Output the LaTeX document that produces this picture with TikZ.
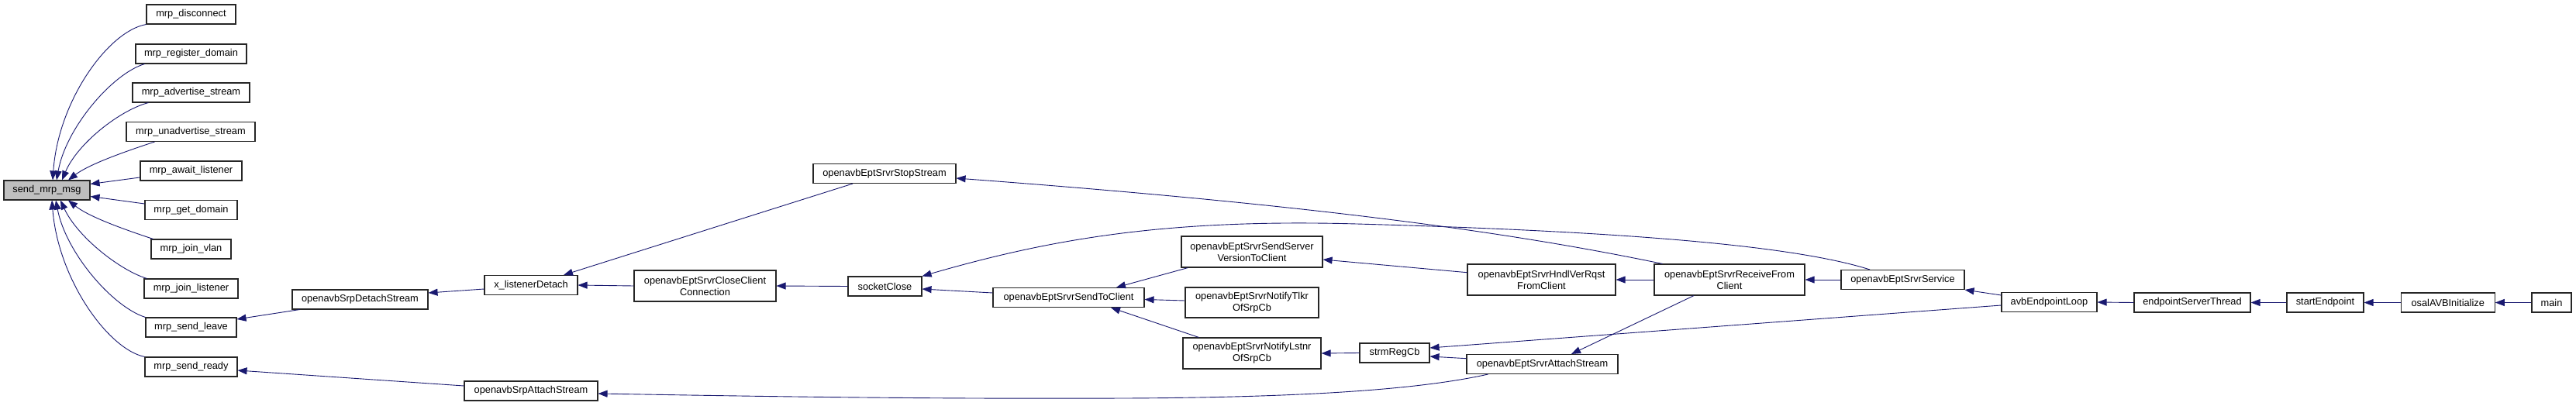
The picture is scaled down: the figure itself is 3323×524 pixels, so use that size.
\documentclass[tikz,border=0pt]{standalone}
\usepackage{fontspec}
\setmainfont{Liberation Sans}
\usetikzlibrary{arrows.meta,calc}
\definecolor{edgecol}{HTML}{191970}
\definecolor{boxfill}{HTML}{BFBFBF}
\begin{document}
\begin{tikzpicture}[x=1pt,y=-1pt,
  font=\fontsize{12.8}{15}\selectfont,
  fn/.style={draw=black!85, line width=1.1pt, fill=white, rectangle, inner sep=0pt, minimum height=25pt, align=center},
  tall/.style={minimum height=40pt},
  gr/.style={fill=boxfill},
  edge/.style={draw=edgecol, line width=0.9pt, -{Triangle[length=12pt,width=9pt]}}]
\fill[white] (0,0) rectangle (3323,524);
\useasboundingbox (0,0) rectangle (3323,524);
% left column
\node[fn,gr,minimum width=111pt] (send) at (60.5,245.5) {send\_mrp\_msg};
\node[fn,minimum width=115pt] (disc) at (246.5,18.5) {mrp\_disconnect};
\node[fn,minimum width=143pt] (regd) at (246.5,69.5) {mrp\_register\_domain};
\node[fn,minimum width=151pt] (advs) at (246.5,119.5) {mrp\_advertise\_stream};
\node[fn,minimum width=166pt] (unadv) at (246,170) {mrp\_unadvertise\_stream};
\node[fn,minimum width=131pt] (await) at (246.5,220.5) {mrp\_await\_listener};
\node[fn,minimum width=119pt] (getd) at (246.5,271) {mrp\_get\_domain};
\node[fn,minimum width=103pt] (vlan) at (246.5,321.5) {mrp\_join\_vlan};
\node[fn,minimum width=121pt] (joinl) at (246.5,372.5) {mrp\_join\_listener};
\node[fn,minimum width=117pt] (leave) at (246.5,422.5) {mrp\_send\_leave};
\node[fn,minimum width=119pt] (ready) at (246.5,473.5) {mrp\_send\_ready};
% middle
\node[fn,minimum width=175pt] (srpdet) at (464.5,386.5) {openavbSrpDetachStream};
\node[fn,minimum width=172pt] (srpatt) at (685,504.5) {openavbSrpAttachStream};
\node[fn,minimum width=120pt] (xld) at (685,368) {x\_listenerDetach};
\node[fn,minimum width=184pt] (stop) at (1141,224) {openavbEptSrvrStopStream};
\node[fn,tall,minimum width=183pt] (close) at (909.5,369) {openavbEptSrvrCloseClient\\Connection};
\node[fn,minimum width=95pt] (sock) at (1141.5,369.5) {socketClose};
\node[fn,minimum width=195pt] (send2c) at (1378.5,384) {openavbEptSrvrSendToClient};
\node[fn,tall,minimum width=182pt] (ssv) at (1615,325) {openavbEptSrvrSendServer\\VersionToClient};
\node[fn,tall,minimum width=172pt,minimum height=39pt] (tlkr) at (1615,390.5) {openavbEptSrvrNotifyTlkr\\OfSrpCb};
\node[fn,tall,minimum width=178pt] (lstnr) at (1615,456) {openavbEptSrvrNotifyLstnr\\OfSrpCb};
\node[fn,minimum width=90pt] (strm) at (1799,455.5) {strmRegCb};
\node[fn,minimum width=195pt] (eatt) at (1989.5,470) {openavbEptSrvrAttachStream};
\node[fn,tall,minimum width=191pt] (hndl) at (1988.5,361) {openavbEptSrvrHndlVerRqst\\FromClient};
\node[fn,tall,minimum width=194pt] (recv) at (2231,361) {openavbEptSrvrReceiveFrom\\Client};
\node[fn,minimum width=159pt] (serv) at (2454.5,361) {openavbEptSrvrService};
\node[fn,minimum width=123pt] (loop) at (2643.5,390) {avbEndpointLoop};
\node[fn,minimum width=150pt] (est) at (2828,390.5) {endpointServerThread};
\node[fn,minimum width=99pt] (start) at (2999.5,390.5) {startEndpoint};
\node[fn,minimum width=121pt] (osal) at (3157.7,390.5) {osalAVBInitialize};
\node[fn,minimum width=51pt] (main) at (3291.5,390.5) {main};
% edges into send_mrp_msg
\draw[edge] (disc.south west) .. controls (140,40) and (75,130) .. ($(send.north)+(7.5,0)$);
\draw[edge] ($(regd.south west)+(12,0)$) .. controls (145,95) and (85,165) .. ($(send.north)+(12.5,0)$);
\draw[edge] ($(advs.south west)+(21,0)$) .. controls (155,142) and (100,185) .. ($(send.north)+(19.5,0)$);
\draw[edge] ($(unadv.south west)+(37,0)$) .. controls (160,196) and (115,212) .. ($(send.north)+(27.5,0)$);
\draw[edge] ($(await.west)+(0,8.5)$) -- ($(send.east)+(0,-8)$);
\draw[edge] ($(getd.west)+(0,-8)$) -- ($(send.east)+(0,8)$);
\draw[edge] ($(vlan.north west)+(3,0)$) .. controls (160,296) and (115,280) .. ($(send.south)+(27.5,0)$);
\draw[edge] ($(joinl.north west)+(4,0)$) .. controls (155,349) and (100,306) .. ($(send.south)+(17.5,0)$);
\draw[edge] (leave.north west) .. controls (145,396) and (85,326) .. ($(send.south)+(11.5,0)$);
\draw[edge] (ready.north west) .. controls (140,451) and (75,361) .. ($(send.south)+(6.5,0)$);
% middle edges
\draw[edge] ($(srpdet.south west)+(10,0)$) -- ($(leave.east)+(0,-10.5)$);
\draw[edge] ($(srpatt.west)+(0,-6.5)$) -- ($(ready.east)+(0,4.5)$);
\draw[edge] ($(xld.west)+(0,5)$) -- ($(srpdet.east)+(0,-8.5)$);
\draw[edge] ($(stop.south)+(-41,0)$) -- ($(xld.north)+(42,0)$);
\draw[edge] (close.west) -- (xld.east);
\draw[edge] (sock.west) -- (close.east);
\draw[edge] ($(send2c.west)+(0,-6)$) -- ($(sock.east)+(0,3.5)$);
\draw[edge] ($(serv.north)+(-42.5,0)$) .. controls (2330,322) and (2150,300) .. (1750,289)
   .. controls (1500,282) and (1350,310) .. (sock.north east);
\draw[edge] ($(recv.north west)+(11,0)$) .. controls (1950,300) and (1700,265) .. ($(stop.east)+(0,6)$);
\draw[edge] ($(ssv.south west)+(9,0)$) -- ($(send2c.north)+(61.5,0)$);
\draw[edge] ($(tlkr.west)+(0,-2.5)$) -- ($(send2c.east)+(0,2.5)$);
\draw[edge] ($(lstnr.north west)+(21,0)$) -- ($(send2c.south)+(54.5,0)$);
\draw[edge] ($(hndl.west)+(0,-9.3)$) -- ($(ssv.east)+(0,10)$);
\draw[edge] (recv.west) -- (hndl.east);
\draw[edge] (serv.west) -- (recv.east);
\draw[edge] ($(loop.west)+(0,-9)$) -- (serv.south east);
\draw[edge] ($(loop.west)+(0,4)$) -- ($(strm.east)+(0,-6.5)$);
\draw[edge] ($(eatt.west)+(0,-7.3)$) -- ($(strm.east)+(0,4.5)$);
\draw[edge] ($(recv.south)+(-46,0)$) -- ($(eatt.north)+(37.5,0)$);
\draw[edge] ($(eatt.south west)+(28,0)$) .. controls (1830,503) and (1680,513) .. (1450,514)
   .. controls (1200,515) and (1000,512) .. ($(srpatt.east)+(0,3.5)$);
\draw[edge] (strm.west) -- (lstnr.east);
\draw[edge] (est.west) -- (loop.east);
\draw[edge] (start.west) -- (est.east);
\draw[edge] (osal.west) -- (start.east);
\draw[edge] (main.west) -- (osal.east);
\end{tikzpicture}
\end{document}
